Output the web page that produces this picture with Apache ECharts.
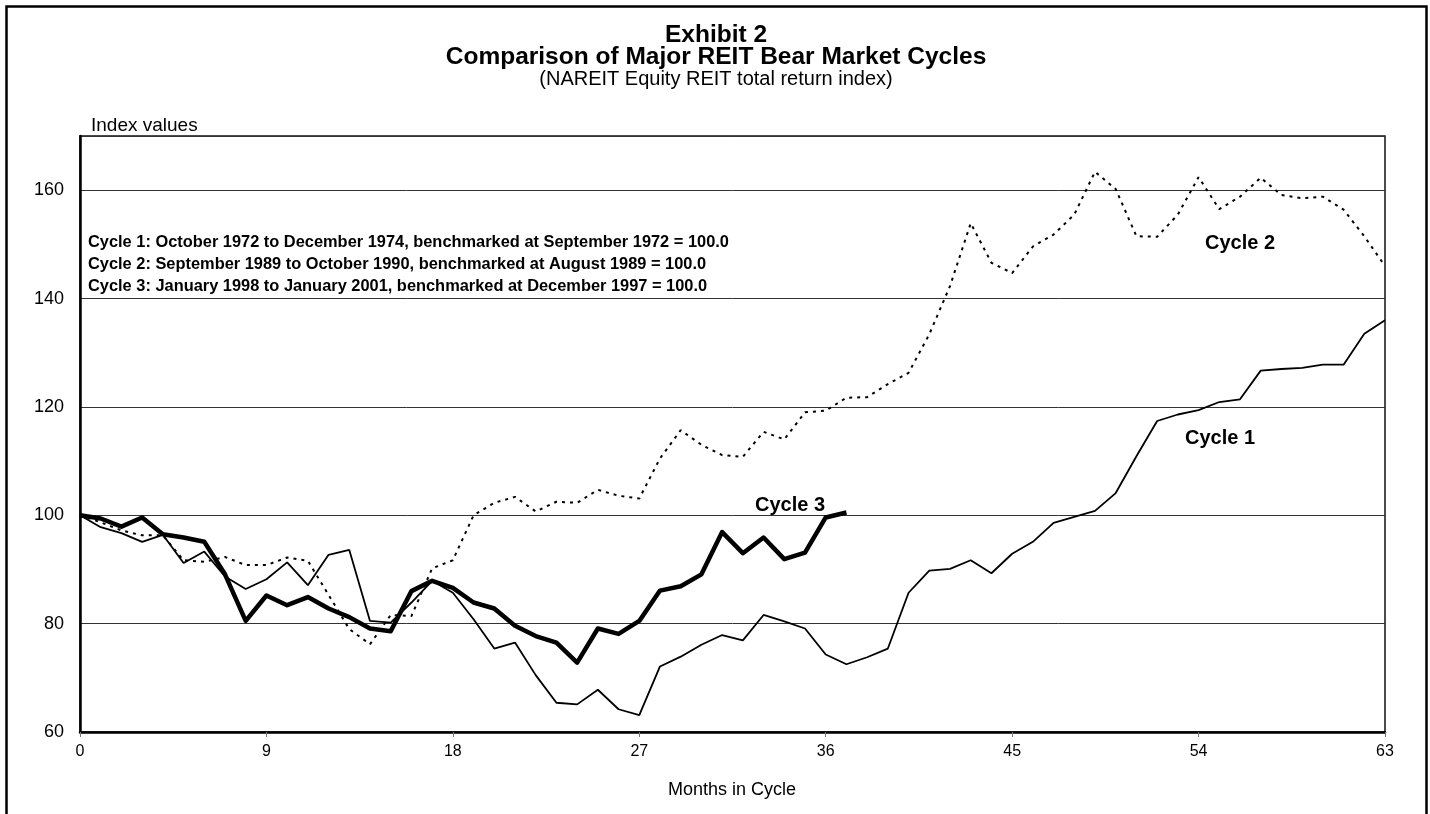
<!DOCTYPE html>
<html>
<head>
<meta charset="utf-8">
<script src="https://cdn.jsdelivr.net/npm/echarts@6/dist/echarts.min.js"></script>
<style>
html,body{margin:0;padding:0;background:#fff;}
#chart{width:1430px;height:814px;}
</style>
</head>
<body>
<div id="chart"></div>
<script>
// Months in cycle (category axis)
const months = Array.from({length: 64}, (_, i) => String(i));

// Cycle 1: Oct 1972 - Dec 1974 (thin solid)
const cycle1 = [100, 97.8, 96.7, 95.1, 96.4, 91.2, 93.3, 88.7, 86.4, 88.2,
  91.3, 87.1, 92.7, 93.6, 80.5, 80.2, 83.9, 87.9, 85.7, 80.8,
  75.4, 76.5, 70.5, 65.4, 65.1, 67.8, 64.2, 63.1, 72.1, 73.9,
  76.1, 77.9, 76.9, 81.6, 80.4, 79.1, 74.3, 72.5, 73.8, 75.4,
  85.7, 89.8, 90.1, 91.7, 89.3, 92.9, 95.1, 98.6, 99.7, 100.8,
  104.1, 110.9, 117.4, 118.6, 119.4, 120.9, 121.4, 126.7, 127.0, 127.2,
  127.8, 127.8, 133.5, 136.0];

// Cycle 2: Sep 1989 - Oct 1990 (dotted)
const cycle2 = [100, 98.7, 97.2, 96.3, 96.3, 91.7, 91.4, 92.3, 90.8, 90.8,
  92.2, 91.6, 85.3, 79.0, 76.2, 81.6, 81.4, 90.2, 91.7, 100.0,
  102.3, 103.4, 100.7, 102.5, 102.3, 104.7, 103.6, 103.1, 110.5, 115.7,
  113.0, 111.1, 110.8, 115.4, 114.0, 119.0, 119.3, 121.7, 121.8, 124.2,
  126.3, 133.4, 142.3, 153.9, 146.6, 144.7, 149.6, 151.8, 155.5, 163.4,
  160.2, 151.5, 151.4, 155.5, 162.4, 156.5, 158.8, 162.3, 159.1, 158.5,
  158.8, 156.4, 151.5, 146.0];

// Cycle 3: Jan 1998 - Jan 2001 (thick solid)
const cycle3 = [100, 99.4, 97.9, 99.6, 96.5, 95.9, 95.1, 89.1, 80.5, 85.2,
  83.4, 84.9, 82.8, 81.2, 79.1, 78.6, 86.0, 87.9, 86.6, 83.9,
  82.8, 79.6, 77.7, 76.5, 72.8, 79.1, 78.1, 80.5, 86.1, 86.9,
  89.1, 96.9, 93.0, 95.9, 91.9, 93.1, 99.6, 100.5];

const noteLines = [
  'Cycle 1: October 1972 to December 1974, benchmarked at September 1972 = 100.0',
  'Cycle 2: September 1989 to October 1990, benchmarked at August 1989 = 100.0',
  'Cycle 3: January 1998 to January 2001, benchmarked at December 1997 = 100.0'
];

const FONT = 'Liberation Sans, Arial, sans-serif';
const chart = echarts.init(document.getElementById('chart'), null, {renderer: 'canvas'});

function txt(text, x, y, font, align) {
  return {type: 'text', x: x, y: y, silent: true,
    style: {text: text, font: font + ' ' + FONT, fill: '#000',
      textAlign: align || 'left', textVerticalAlign: 'middle'}};
}

const option = {
  backgroundColor: '#fff',
  animation: false,
  grid: {left: 80, right: 45, top: 136, bottom: 82, show: true,
    borderColor: '#111', borderWidth: 1.5, backgroundColor: 'transparent'},
  xAxis: {
    type: 'category', data: months, boundaryGap: false,
    axisLine: {lineStyle: {color: '#000', width: 2.5}},
    axisTick: {show: true, interval: 8, length: 5, lineStyle: {color: '#777', width: 1}},
    axisLabel: {interval: 8, fontFamily: FONT, fontSize: 16, color: '#000', margin: 12},
    splitLine: {show: false}
  },
  yAxis: {
    type: 'value', min: 60, max: 170, interval: 20,
    axisLine: {show: true, lineStyle: {color: '#000', width: 2.5}},
    axisTick: {show: false},
    axisLabel: {fontFamily: FONT, fontSize: 18, color: '#000', margin: 16, showMaxLabel: false},
    splitLine: {show: true, lineStyle: {color: '#333', width: 1}}
  },
  series: [
    {name: 'Cycle 2', type: 'line', data: cycle2, symbol: 'none', z: 2,
      lineStyle: {color: '#000', width: 2, type: [3, 5]}},
    {name: 'Cycle 1', type: 'line', data: cycle1, symbol: 'none', z: 3,
      lineStyle: {color: '#000', width: 1.8}},
    {name: 'Cycle 3', type: 'line', data: cycle3, symbol: 'none', z: 4,
      lineStyle: {color: '#000', width: 4.5, join: 'round'}}
  ],
  graphic: [
    {type: 'rect', left: 4, top: 4, shape: {width: 1420, height: 900},
      style: {fill: 'none', stroke: '#000', lineWidth: 2.5}, silent: true},
    txt('Exhibit 2', 716, 35, 'bold 24.5px', 'center'),
    txt('Comparison of Major REIT Bear Market Cycles', 716, 57, 'bold 24.5px', 'center'),
    txt('(NAREIT Equity REIT total return index)', 716, 79, '20px', 'center'),
    txt('Index values', 91, 126, '19px'),
    txt(noteLines[0], 88, 242, 'bold 16.4px'),
    txt(noteLines[1], 88, 264, 'bold 16.4px'),
    txt(noteLines[2], 88, 286, 'bold 16.4px'),
    txt('Cycle 3', 755, 505, 'bold 20px'),
    txt('Cycle 2', 1205, 243, 'bold 20px'),
    txt('Cycle 1', 1185, 438, 'bold 20px'),
    txt('Months in Cycle', 732, 790, '18px', 'center')
  ]
};
chart.setOption(option);
</script>
</body>
</html>
